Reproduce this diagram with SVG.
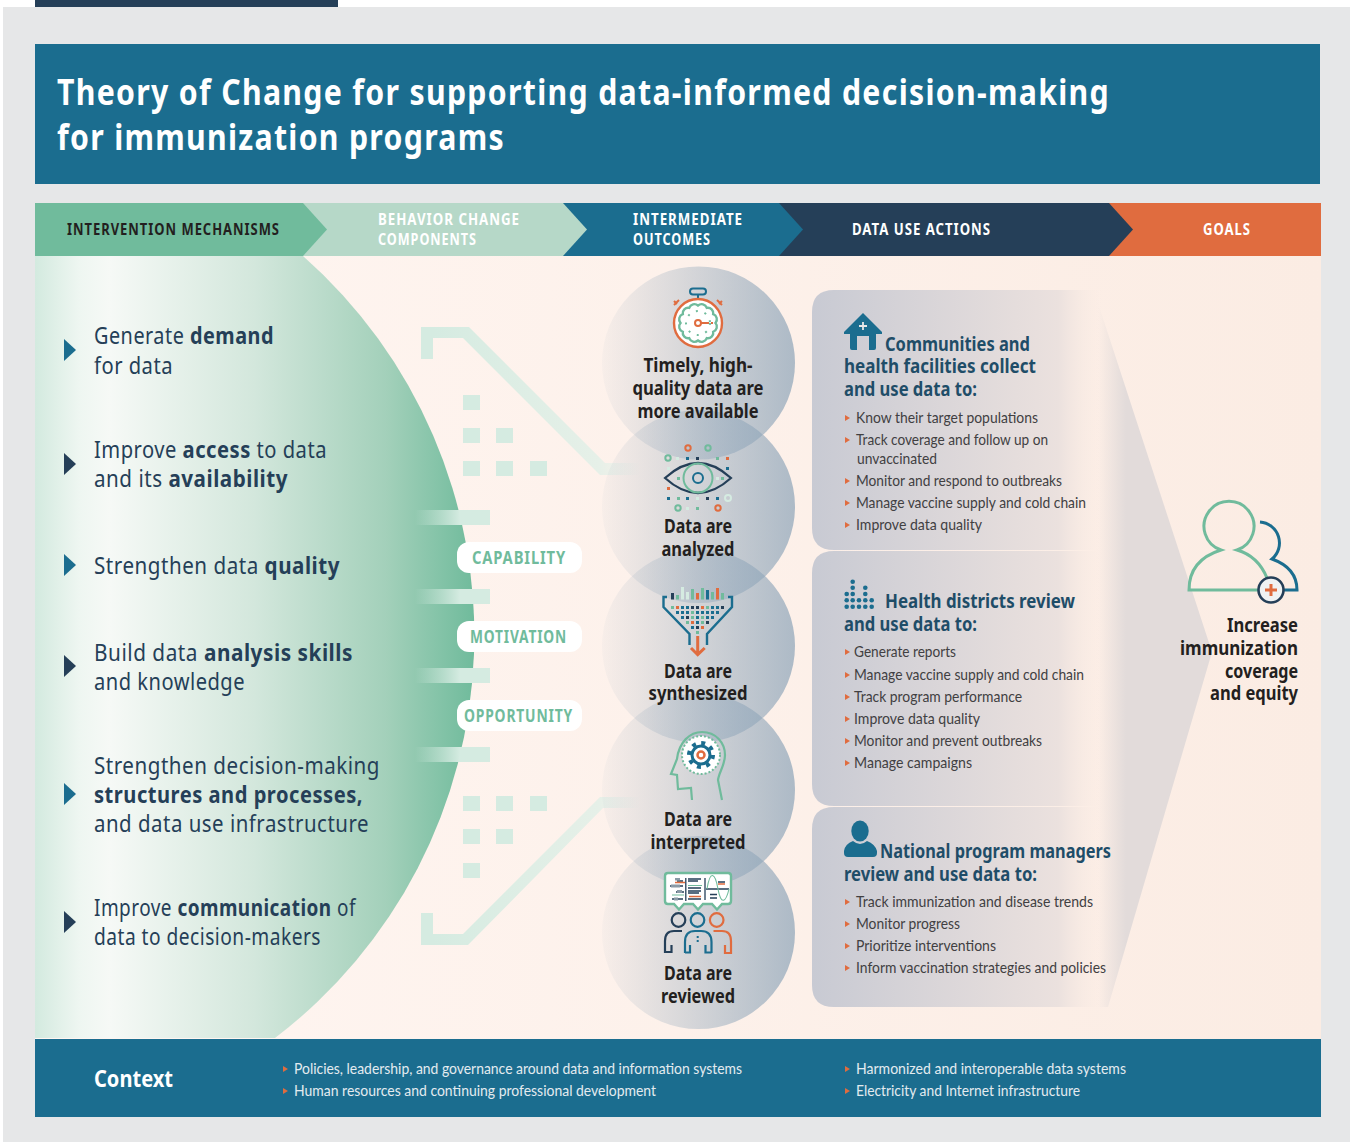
<svg xmlns="http://www.w3.org/2000/svg" width="1350" height="1142" viewBox="0 0 1350 1142">
<style>
text{font-family:"Noto Sans","Liberation Sans",sans-serif}
.ti{font-size:35px;font-weight:700;fill:#fff;letter-spacing:1.5px}
.hd{font-size:16px;font-weight:700;letter-spacing:1.2px}
.m{font-size:24px;fill:#253f58;letter-spacing:.6px}
.s{font-weight:700}
.pl{font-size:17px;font-weight:700;fill:#70bb9c;letter-spacing:1px}
.c{font-size:19px;font-weight:700;fill:#231f20}
.ph{font-size:19px;font-weight:700;fill:#1f4d68}
.b{font-size:15px;fill:#414042;font-family:Lato,"Noto Sans",sans-serif}
.cx{font-size:15px;fill:#e3ebef;font-family:Lato,"Noto Sans",sans-serif}
.sq{fill:#d5ebe1}
.n{fill:#253f58}.t{fill:#1b6d8f}.g{fill:#70bb9c}.o{fill:#e06c3f}.l{fill:#d5ebe1}
</style>
<defs>
<linearGradient id="bg" x1="0" x2="1" y1="0" y2="0"><stop offset="0" stop-color="#fff6f2"/><stop offset="1" stop-color="#fbece3"/></linearGradient>
<linearGradient id="lens" gradientUnits="userSpaceOnUse" x1="35" x2="474" y1="0" y2="0"><stop offset="0" stop-color="#d3eadf"/><stop offset=".1" stop-color="#eef6f1"/><stop offset=".17" stop-color="#f6f9f6"/><stop offset=".5" stop-color="#d3e7dc"/><stop offset=".8" stop-color="#a3d0ba"/><stop offset="1" stop-color="#70bb9c"/></linearGradient>
<linearGradient id="band" x1="0" x2="1" y1="0" y2="0"><stop offset="0" stop-color="#d5ebe1" stop-opacity="0"/><stop offset=".6" stop-color="#d5ebe1"/><stop offset="1" stop-color="#d5ebe1"/></linearGradient>
<linearGradient id="circ" x1="0" x2="1" y1="0" y2="0"><stop offset="0" stop-color="#8ea5b9" stop-opacity=".05"/><stop offset="1" stop-color="#8ea5b9" stop-opacity=".72"/></linearGradient>
<linearGradient id="panel" gradientUnits="userSpaceOnUse" x1="812" x2="1102" y1="0" y2="0"><stop offset="0" stop-color="#c8cad3"/><stop offset=".85" stop-color="#ebe1de"/><stop offset="1" stop-color="#f9ebe3" stop-opacity="0"/></linearGradient>
<linearGradient id="tri" gradientUnits="userSpaceOnUse" x1="1098" x2="1126" y1="0" y2="0"><stop offset="0" stop-color="#e2dbda" stop-opacity="0"/><stop offset="1" stop-color="#e2dbda"/></linearGradient>
<linearGradient id="fadeL" gradientUnits="userSpaceOnUse" x1="433" x2="640" y1="0" y2="0"><stop offset="0" stop-color="#d5ebe1"/><stop offset=".8" stop-color="#e6f0e8"/><stop offset="1" stop-color="#e6f0e8" stop-opacity="0"/></linearGradient>
<path id="bul" d="M0 0l5 3-5 3z" fill="#e06c3f"/>
</defs>

<g id="page">
<rect width="1350" height="1142" fill="#fff"/>
<rect x="3" y="7" width="1347" height="1135" fill="#e6e7e8"/>
<rect x="35" y="0" width="303" height="7" fill="#253f58"/>
<rect x="35" y="256" width="1286" height="783" fill="url(#bg)"/>
</g>

<g id="title">
<rect x="35" y="44" width="1285" height="140" fill="#1b6d8f"/>
<text class="ti"><tspan x="57" y="105" textLength="1053" lengthAdjust="spacingAndGlyphs">Theory of Change for supporting data-informed decision-making</tspan><tspan x="57" y="150" textLength="448" lengthAdjust="spacingAndGlyphs">for immunization programs</tspan></text>
</g>

<g id="header">
<path d="M1100 203H1321V256H1100z" fill="#e06c3f"/>
<path d="M770 203H1109L1133 229.500 1109 256H770z" fill="#253f58"/>
<path d="M555 203H779L803 229.500 779 256H555z" fill="#1b6d8f"/>
<path d="M295 203H563L587 229.500 563 256H295z" fill="#b6d8c8"/>
<path d="M35 203H303L327 229.500 303 256H35z" fill="#70bb9c"/>
<text class="hd" x="67" y="235" fill="#231f20" textLength="213" lengthAdjust="spacingAndGlyphs">INTERVENTION MECHANISMS</text>
<text class="hd" fill="#fff"><tspan x="378" y="225" textLength="142" lengthAdjust="spacingAndGlyphs">BEHAVIOR CHANGE</tspan><tspan x="378" y="245" textLength="99" lengthAdjust="spacingAndGlyphs">COMPONENTS</tspan></text>
<text class="hd" fill="#fff"><tspan x="633" y="225" textLength="110" lengthAdjust="spacingAndGlyphs">INTERMEDIATE</tspan><tspan x="633" y="245" textLength="78" lengthAdjust="spacingAndGlyphs">OUTCOMES</tspan></text>
<text class="hd" x="852" y="235" fill="#fff" textLength="139" lengthAdjust="spacingAndGlyphs">DATA USE ACTIONS</text>
<text class="hd" x="1203" y="235" fill="#fff" textLength="48" lengthAdjust="spacingAndGlyphs">GOALS</text>
</g>

<g id="mechanisms">
<path d="M35 256H303A506 506 0 0 1 275 1038H35z" fill="url(#lens)"/>
<g id="mech-demand">
<path d="M64 339l12 11-12 11z" class="t"/>
<text class="m" x="94" y="344" textLength="180" lengthAdjust="spacingAndGlyphs">Generate <tspan class="s">demand</tspan></text>
<text class="m" x="94" y="374" textLength="79" lengthAdjust="spacingAndGlyphs">for data</text>
</g>
<g id="mech-access">
<path d="M64 453l12 11-12 11z" class="n"/>
<text class="m" x="94" y="458" textLength="233" lengthAdjust="spacingAndGlyphs">Improve <tspan class="s">access</tspan> to data</text>
<text class="m" x="94" y="487" textLength="194" lengthAdjust="spacingAndGlyphs">and its <tspan class="s">availability</tspan></text>
</g>
<g id="mech-quality">
<path d="M64 554l12 11-12 11z" class="t"/>
<text class="m" x="94" y="574" textLength="246" lengthAdjust="spacingAndGlyphs">Strengthen data <tspan class="s">quality</tspan></text>
</g>
<g id="mech-skills">
<path d="M64 655l12 11-12 11z" class="n"/>
<text class="m" x="94" y="661" textLength="259" lengthAdjust="spacingAndGlyphs">Build data <tspan class="s">analysis skills</tspan></text>
<text class="m" x="94" y="690" textLength="151" lengthAdjust="spacingAndGlyphs">and knowledge</text>
</g>
<g id="mech-structures">
<path d="M64 783l12 11-12 11z" class="t"/>
<text class="m" x="94" y="774" textLength="286" lengthAdjust="spacingAndGlyphs">Strengthen decision-making</text>
<text class="m s" x="94" y="803" textLength="269" lengthAdjust="spacingAndGlyphs">structures and processes,</text>
<text class="m" x="94" y="832" textLength="275" lengthAdjust="spacingAndGlyphs">and data use infrastructure</text>
</g>
<g id="mech-communication">
<path d="M64 911l12 11-12 11z" class="n"/>
<text class="m" x="94" y="916" textLength="262" lengthAdjust="spacingAndGlyphs">Improve <tspan class="s">communication</tspan> of</text>
<text class="m" x="94" y="945" textLength="227" lengthAdjust="spacingAndGlyphs">data to decision-makers</text>
</g>
</g>

<g id="connectors">
<path d="M421 359V327H469L605 463H640V475H600L463 338H433V359z" fill="url(#fadeL)"/>
<path d="M421 913V945H468L603 808H640V797H600L463 934H433V913z" fill="url(#fadeL)"/>
<rect x="415" y="510" width="75" height="15" fill="url(#band)"/>
<rect x="415" y="589" width="75" height="15" fill="url(#band)"/>
<rect x="415" y="668" width="75" height="15" fill="url(#band)"/>
<rect x="415" y="747" width="75" height="15" fill="url(#band)"/>
<rect class="sq" x="463" y="395" width="17" height="15"/>
<rect class="sq" x="463" y="428" width="17" height="15"/><rect class="sq" x="496" y="428" width="17" height="15"/>
<rect class="sq" x="463" y="461" width="17" height="15"/><rect class="sq" x="496" y="461" width="17" height="15"/><rect class="sq" x="530" y="461" width="17" height="15"/>
<rect class="sq" x="463" y="796" width="17" height="15"/><rect class="sq" x="496" y="796" width="17" height="15"/><rect class="sq" x="530" y="796" width="17" height="15"/>
<rect class="sq" x="463" y="829" width="17" height="15"/><rect class="sq" x="496" y="829" width="17" height="15"/>
<rect class="sq" x="463" y="863" width="17" height="15"/>
</g>

<g id="behavior-components">
<g id="capability"><rect x="457" y="542" width="125" height="31" rx="12" fill="#fff"/><text class="pl" x="472" y="564" textLength="94" lengthAdjust="spacingAndGlyphs">CAPABILITY</text></g>
<g id="motivation"><rect x="457" y="621" width="125" height="31" rx="12" fill="#fff"/><text class="pl" x="470" y="643" textLength="97" lengthAdjust="spacingAndGlyphs">MOTIVATION</text></g>
<g id="opportunity"><rect x="457" y="700" width="125" height="31" rx="12" fill="#fff"/><text class="pl" x="464" y="722" textLength="109" lengthAdjust="spacingAndGlyphs">OPPORTUNITY</text></g>
</g>

<g id="outcomes">
<circle cx="698.500" cy="363" r="96.500" fill="url(#circ)"/>
<circle cx="698.500" cy="506.500" r="96.500" fill="url(#circ)"/>
<circle cx="698.500" cy="646" r="96.500" fill="url(#circ)"/>
<circle cx="698.500" cy="790" r="96.500" fill="url(#circ)"/>
<circle cx="698.500" cy="932.500" r="96.500" fill="url(#circ)"/>

<g id="outcome-timely">
<g fill="none">
<rect x="690" y="288.500" width="16" height="6" rx="3" stroke="#1b6d8f" stroke-width="2"/><path d="M698 294v5" stroke="#1b6d8f" stroke-width="2"/>
<path d="M677 304l-3-3M719 304l3-3M674 305l5-5M722 305l-5-5" stroke="#e06c3f" stroke-width="2"/>
<circle cx="698" cy="323" r="24" fill="#fff" stroke="#e06c3f" stroke-width="2.400"/>
<path d="M715.500 323A5.500 5.500 0 0 1 713.200 331.800A5.500 5.500 0 0 1 706.800 338.200A5.500 5.500 0 0 1 698 340.500A5.500 5.500 0 0 1 689.200 338.200A5.500 5.500 0 0 1 682.800 331.800A5.500 5.500 0 0 1 680.500 323A5.500 5.500 0 0 1 682.800 314.200A5.500 5.500 0 0 1 689.200 307.800A5.500 5.500 0 0 1 698 305.500A5.500 5.500 0 0 1 706.800 307.800A5.500 5.500 0 0 1 713.200 314.200A5.500 5.500 0 0 1 715.500 323z" stroke="#70bb9c" stroke-width="2.400"/>
<circle cx="698" cy="323" r="12" stroke="#70bb9c" stroke-width="2" stroke-dasharray="2 7"/>
<circle cx="698" cy="323" r="3" fill="#fff" stroke="#e06c3f" stroke-width="2"/>
<path d="M701 323h8M711 323h2" stroke="#e06c3f" stroke-width="2"/>
</g>
<text class="c" text-anchor="middle"><tspan x="698" y="372" textLength="109" lengthAdjust="spacingAndGlyphs">Timely, high-</tspan><tspan x="698" y="395" textLength="131" lengthAdjust="spacingAndGlyphs">quality data are</tspan><tspan x="698" y="418" textLength="121" lengthAdjust="spacingAndGlyphs">more available</tspan></text>
</g>

<g id="outcome-analyzed">
<g fill="none" stroke-width="2">
<path d="M665 478Q698 448 731 478Q698 508 665 478z" stroke="#253f58" stroke-width="2.200"/>
<circle cx="698" cy="478" r="14.500" stroke="#70bb9c"/>
<circle cx="698" cy="478" r="5" stroke="#1b6d8f"/>
<circle cx="688" cy="448" r="2.700" stroke="#e06c3f"/><circle cx="708" cy="448" r="2.700" stroke="#70bb9c"/>
<circle cx="668" cy="458" r="2.700" stroke="#70bb9c"/><circle cx="728" cy="498" r="3" stroke="#d5ebe1"/>
<circle cx="678" cy="508" r="2.700" stroke="#70bb9c"/><circle cx="718" cy="508" r="2.700" stroke="#e06c3f"/>
</g>
<g>
<rect x="676" y="457" width="3" height="3" class="l"/><rect x="686" y="457" width="3" height="3" class="t"/><rect x="696" y="457" width="3" height="3" class="n"/><rect x="716" y="457" width="3" height="3" class="g"/><rect x="726" y="457" width="3" height="3" class="o"/>
<rect x="667" y="467" width="3" height="3" class="l"/><rect x="726" y="467" width="3" height="3" class="t"/>
<rect x="677" y="477" width="3" height="3" class="g"/><rect x="716" y="477" width="3" height="3" class="l"/><rect x="721" y="477" width="3" height="3" class="g"/>
<rect x="667" y="487" width="3" height="3" class="o"/>
<rect x="667" y="497" width="3" height="3" class="t"/><rect x="677" y="497" width="3" height="3" class="g"/><rect x="686" y="497" width="3" height="3" class="t"/><rect x="696" y="497" width="3" height="3" class="l"/><rect x="706" y="497" width="3" height="3" class="n"/><rect x="716" y="497" width="3" height="3" class="t"/>
<rect x="686" y="507" width="3" height="3" class="l"/><rect x="696" y="507" width="3" height="3" class="g"/>
</g>
<text class="c" text-anchor="middle"><tspan x="698" y="533" textLength="68" lengthAdjust="spacingAndGlyphs">Data are</tspan><tspan x="698" y="556" textLength="73" lengthAdjust="spacingAndGlyphs">analyzed</tspan></text>
</g>

<g id="outcome-synthesized">
<g>
<rect x="671" y="593" width="3" height="6.500" class="n"/><rect x="676" y="595" width="3" height="4.500" class="g"/><rect x="681" y="587" width="3" height="12.500" class="l"/><rect x="686" y="592" width="3" height="7.500" class="l"/><rect x="691" y="589" width="3" height="10.500" class="g"/><rect x="696" y="593" width="3" height="6.500" class="o"/><rect x="701" y="588" width="3" height="11.500" class="g"/><rect x="706" y="590" width="3" height="9.500" class="t"/><rect x="711" y="592" width="3" height="7.500" class="g"/><rect x="716" y="588" width="3" height="11.500" class="o"/><rect x="721" y="593" width="3" height="6.500" class="g"/>
</g>
<path d="M667 597H663.500V607L689.500 634V645M728 597H732V607L707 634V645" fill="none" stroke="#1b6d8f" stroke-width="2.400"/>
<g>
<rect x="671" y="606" width="3" height="3" class="g"/><rect x="676" y="606" width="3" height="3" class="o"/><rect x="681" y="606" width="3" height="3" class="t"/><rect x="686" y="606" width="3" height="3" class="t"/><rect x="691" y="606" width="3" height="3" class="n"/><rect x="696" y="606" width="3" height="3" class="n"/><rect x="701" y="606" width="3" height="3" class="o"/><rect x="706" y="606" width="3" height="3" class="g"/><rect x="711" y="606" width="3" height="3" class="t"/><rect x="716" y="606" width="3" height="3" class="t"/><rect x="721" y="606" width="3" height="3" class="n"/>
<rect x="676" y="611" width="3" height="3" class="t"/><rect x="681" y="611" width="3" height="3" class="t"/><rect x="686" y="611" width="3" height="3" class="t"/><rect x="691" y="611" width="3" height="3" class="g"/><rect x="696" y="611" width="3" height="3" class="t"/><rect x="701" y="611" width="3" height="3" class="t"/><rect x="706" y="611" width="3" height="3" class="t"/><rect x="711" y="611" width="3" height="3" class="t"/><rect x="716" y="611" width="3" height="3" class="t"/>
<rect x="681" y="616" width="3" height="3" class="t"/><rect x="686" y="616" width="3" height="3" class="n"/><rect x="691" y="616" width="3" height="3" class="g"/><rect x="696" y="616" width="3" height="3" class="t"/><rect x="701" y="616" width="3" height="3" class="g"/><rect x="706" y="616" width="3" height="3" class="t"/><rect x="711" y="616" width="3" height="3" class="t"/>
<rect x="686" y="621" width="3" height="3" class="g"/><rect x="691" y="621" width="3" height="3" class="o"/><rect x="696" y="621" width="3" height="3" class="t"/><rect x="701" y="621" width="3" height="3" class="g"/><rect x="706" y="621" width="3" height="3" class="n"/>
<rect x="691" y="626" width="3" height="3" class="t"/><rect x="696" y="626" width="3" height="3" class="n"/><rect x="701" y="626" width="3" height="3" class="o"/>
<rect x="696" y="631" width="3" height="3" class="g"/>
</g>
<path d="M697.700 636V654M691 648l6.700 6.700 7-6.700" fill="none" stroke="#e06c3f" stroke-width="3"/>
<text class="c" text-anchor="middle"><tspan x="698" y="678" textLength="68" lengthAdjust="spacingAndGlyphs">Data are</tspan><tspan x="698" y="700" textLength="99" lengthAdjust="spacingAndGlyphs">synthesized</tspan></text>
</g>

<g id="outcome-interpreted">
<path d="M692 800L691 788L678 789L677 775L671 774L677 759C679 742 690 732 702 732C716 732 725 743 725 755C725 765 719 772 718 780L722 800" fill="none" stroke="#70bb9c" stroke-width="2.200"/>
<circle cx="701" cy="755" r="19" fill="#fff" stroke="#70bb9c" stroke-width="2" stroke-dasharray="2 2"/>
<circle cx="701" cy="755" r="9" fill="none" stroke="#1b6d8f" stroke-width="3"/>
<circle cx="701" cy="755" r="12" fill="none" stroke="#1b6d8f" stroke-width="4" stroke-dasharray="4 5.400"/>
<circle cx="701" cy="755" r="3.500" fill="none" stroke="#e06c3f" stroke-width="2.500"/>
<text class="c" text-anchor="middle"><tspan x="698" y="826" textLength="68" lengthAdjust="spacingAndGlyphs">Data are</tspan><tspan x="698" y="849" textLength="95" lengthAdjust="spacingAndGlyphs">interpreted</tspan></text>
</g>

<g id="outcome-reviewed">
<path d="M668 873H728Q731 873 731 876V901Q731 904 728 904H722L717 909.500 712 904H703L698 909.500 693 904H684L679 909.500 674 904H668Q665 904 665 901V876Q665 873 668 873z" fill="#fff" stroke="#70bb9c" stroke-width="2.400"/>
<g fill="none" stroke="#253f58" stroke-width="1.300">
<path d="M685.800 878V901M705 878V900M688 879H701M688 881H698M688 888H701M688 891H701M688 893H699M688 899H701"/>
<path d="M670 886H683M677 881H683M676 892H684M672 899H683"/>
<path d="M706 889H729M718 882H725M710 894.500H717M710 898H717"/>
</g>
<rect x="675" y="878" width="5" height="2.500" fill="#8a9aa6"/><rect x="671" y="884.500" width="9" height="3" fill="#8a9aa6"/><rect x="677" y="890" width="5" height="3" fill="#8a9aa6"/><rect x="674" y="897.500" width="4" height="3" fill="#8a9aa6"/>
<path d="M675 882.500H685M689 896.500H701M718 884H725" fill="none" stroke="#e06c3f" stroke-width="1.300"/>
<path d="M688 885.500H702M672 895H684M707 889C710 870 715 872 718 889S726 902 729 889" fill="none" stroke="#70bb9c" stroke-width="1.100"/>
<circle cx="678.500" cy="920" r="6.800" fill="none" stroke="#253f58" stroke-width="2.200"/>
<circle cx="697.500" cy="920" r="6.800" fill="none" stroke="#1b6d8f" stroke-width="2.200"/>
<circle cx="716.700" cy="920" r="6.800" fill="none" stroke="#e06c3f" stroke-width="2.200"/>
<path d="M682 931H674Q665 931 665 941V952H671.500V945" fill="none" stroke="#253f58" stroke-width="2.200"/>
<path d="M685 953V942Q685 931 695 931H701Q711.500 931 711.500 942V953M685 952.500H690V945M711.500 952.500H705.500V945" fill="none" stroke="#1b6d8f" stroke-width="2.200"/>
<path d="M697.700 936v2M697.700 940v2" stroke="#1b6d8f" stroke-width="2"/>
<path d="M713.500 931H722Q731 931 731 941V953H725V945" fill="none" stroke="#e06c3f" stroke-width="2.200"/>
<text class="c" text-anchor="middle"><tspan x="698" y="980" textLength="68" lengthAdjust="spacingAndGlyphs">Data are</tspan><tspan x="698" y="1003" textLength="74" lengthAdjust="spacingAndGlyphs">reviewed</tspan></text>
</g>
</g>

<g id="actions">
<path id="goal-arrow" d="M1097 300L1212 652 1108 1007H1098z" fill="url(#tri)"/>
<g id="action-communities">
<path d="M834 290H1105V550H834Q812 550 812 528V312Q812 290 834 290z" fill="url(#panel)"/>
<path d="M863 313L882 332V334H876V348Q876 350 874 350H869V336H857V350H852Q850 350 850 348V334H844V332z" fill="#1b6d8f"/>
<path d="M863 322v8M859 326h8" stroke="#e6e7e8" stroke-width="1.800"/>
<text class="ph"><tspan x="885" y="351" textLength="145" lengthAdjust="spacingAndGlyphs">Communities and</tspan><tspan x="844" y="373" textLength="192" lengthAdjust="spacingAndGlyphs">health facilities collect</tspan><tspan x="844" y="396" textLength="133" lengthAdjust="spacingAndGlyphs">and use data to:</tspan></text>
<use href="#bul" x="845" y="415"/><text class="b" x="856" y="423" textLength="182" lengthAdjust="spacingAndGlyphs">Know their target populations</text>
<use href="#bul" x="845" y="437"/><text class="b"><tspan x="856" y="445" textLength="192" lengthAdjust="spacingAndGlyphs">Track coverage and follow up on</tspan><tspan x="857" y="464" textLength="80" lengthAdjust="spacingAndGlyphs">unvaccinated</tspan></text>
<use href="#bul" x="845" y="478"/><text class="b" x="856" y="486" textLength="206" lengthAdjust="spacingAndGlyphs">Monitor and respond to outbreaks</text>
<use href="#bul" x="845" y="500"/><text class="b" x="856" y="508" textLength="230" lengthAdjust="spacingAndGlyphs">Manage vaccine supply and cold chain</text>
<use href="#bul" x="845" y="522"/><text class="b" x="856" y="530" textLength="126" lengthAdjust="spacingAndGlyphs">Improve data quality</text>
</g>
<g id="action-districts">
<path d="M834 551H1105V806H834Q812 806 812 784V573Q812 551 834 551z" fill="url(#panel)"/>
<g fill="#1b6d8f">
<circle cx="852.700" cy="581.700" r="2.300"/>
<circle cx="852.700" cy="587.700" r="2.300"/><circle cx="865.300" cy="587.700" r="2.300"/>
<circle cx="846.700" cy="594" r="2.300"/><circle cx="852.700" cy="594" r="2.300"/><circle cx="865.300" cy="594" r="2.300"/>
<circle cx="846.700" cy="600.300" r="2.300"/><circle cx="852.700" cy="600.300" r="2.300"/><circle cx="859" cy="600.300" r="2.300"/><circle cx="865.300" cy="600.300" r="2.300"/><circle cx="871.700" cy="600.300" r="2.300"/>
<circle cx="846.700" cy="606.700" r="2.300"/><circle cx="852.700" cy="606.700" r="2.300"/><circle cx="859" cy="606.700" r="2.300"/><circle cx="865.300" cy="606.700" r="2.300"/><circle cx="871.700" cy="606.700" r="2.300"/>
</g>
<text class="ph"><tspan x="885" y="608" textLength="190" lengthAdjust="spacingAndGlyphs">Health districts review</tspan><tspan x="844" y="631" textLength="133" lengthAdjust="spacingAndGlyphs">and use data to:</tspan></text>
<use href="#bul" x="845" y="649"/><text class="b" x="854" y="657" textLength="102" lengthAdjust="spacingAndGlyphs">Generate reports</text>
<use href="#bul" x="845" y="672"/><text class="b" x="854" y="680" textLength="230" lengthAdjust="spacingAndGlyphs">Manage vaccine supply and cold chain</text>
<use href="#bul" x="845" y="694"/><text class="b" x="854" y="702" textLength="168" lengthAdjust="spacingAndGlyphs">Track program performance</text>
<use href="#bul" x="845" y="716"/><text class="b" x="854" y="724" textLength="126" lengthAdjust="spacingAndGlyphs">Improve data quality</text>
<use href="#bul" x="845" y="738"/><text class="b" x="854" y="746" textLength="188" lengthAdjust="spacingAndGlyphs">Monitor and prevent outbreaks</text>
<use href="#bul" x="845" y="760"/><text class="b" x="854" y="768" textLength="118" lengthAdjust="spacingAndGlyphs">Manage campaigns</text>
</g>
<g id="action-national">
<path d="M834 807H1105V1007H834Q812 1007 812 985V829Q812 807 834 807z" fill="url(#panel)"/>
<ellipse cx="860" cy="831" rx="8.700" ry="10.500" fill="#1b6d8f"/>
<path d="M844 851Q845 844 853 841Q860 847 867 841Q875 844 877 851V853Q877 857 873 857H848Q844 857 844 853z" fill="#1b6d8f"/>
<text class="ph"><tspan x="880" y="858" textLength="231" lengthAdjust="spacingAndGlyphs">National program managers</tspan><tspan x="844" y="881" textLength="193" lengthAdjust="spacingAndGlyphs">review and use data to:</tspan></text>
<use href="#bul" x="845" y="899"/><text class="b" x="856" y="907" textLength="237" lengthAdjust="spacingAndGlyphs">Track immunization and disease trends</text>
<use href="#bul" x="845" y="921"/><text class="b" x="856" y="929" textLength="104" lengthAdjust="spacingAndGlyphs">Monitor progress</text>
<use href="#bul" x="845" y="943"/><text class="b" x="856" y="951" textLength="140" lengthAdjust="spacingAndGlyphs">Prioritize interventions</text>
<use href="#bul" x="845" y="965"/><text class="b" x="856" y="973" textLength="250" lengthAdjust="spacingAndGlyphs">Inform vaccination strategies and policies</text>
</g>
</g>

<g id="goal">
<path d="M1260 522A21 21 0 0 1 1272 559Q1297 568 1297 590H1284" fill="none" stroke="#1b6d8f" stroke-width="3"/>
<path d="M1260 590H1189Q1189 560 1221 550A25 25 0 1 1 1237 550Q1258 556 1267 578" fill="none" stroke="#70bb9c" stroke-width="3"/>
<circle cx="1271" cy="590" r="12.500" fill="#f0f2f2" stroke="#253f58" stroke-width="2.600"/>
<path d="M1271 584v12M1265 590h12" stroke="#e06c3f" stroke-width="3"/>
<text class="c" text-anchor="end"><tspan x="1298" y="632" textLength="71" lengthAdjust="spacingAndGlyphs">Increase</tspan><tspan x="1298" y="655" textLength="118" lengthAdjust="spacingAndGlyphs">immunization</tspan><tspan x="1298" y="678" textLength="73" lengthAdjust="spacingAndGlyphs">coverage</tspan><tspan x="1298" y="700" textLength="88" lengthAdjust="spacingAndGlyphs">and equity</tspan></text>
</g>

<g id="context">
<rect x="35" y="1039" width="1286" height="78" fill="#1b6d8f"/>
<text x="94" y="1087" font-size="23" font-weight="700" fill="#fff" textLength="79" lengthAdjust="spacingAndGlyphs">Context</text>
<use href="#bul" x="283" y="1066"/><text class="cx" x="294" y="1074" textLength="448" lengthAdjust="spacingAndGlyphs">Policies, leadership, and governance around data and information systems</text>
<use href="#bul" x="283" y="1088"/><text class="cx" x="294" y="1096" textLength="362" lengthAdjust="spacingAndGlyphs">Human resources and continuing professional development</text>
<use href="#bul" x="845" y="1066"/><text class="cx" x="856" y="1074" textLength="270" lengthAdjust="spacingAndGlyphs">Harmonized and interoperable data systems</text>
<use href="#bul" x="845" y="1088"/><text class="cx" x="856" y="1096" textLength="224" lengthAdjust="spacingAndGlyphs">Electricity and Internet infrastructure</text>
</g>
</svg>
